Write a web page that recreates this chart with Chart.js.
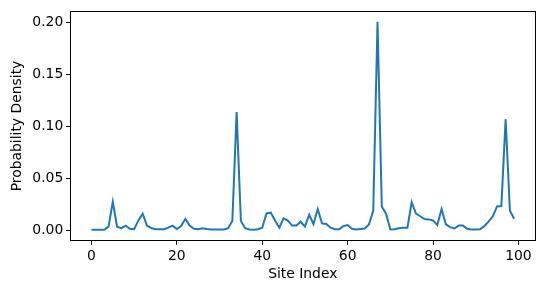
<!DOCTYPE html>
<html>
<head>
<meta charset="utf-8">
<script src="https://cdn.jsdelivr.net/npm/chart.js@4.4.1/dist/chart.umd.min.js"></script>
<style>
html,body{margin:0;padding:0;background:#fff;}
#wrap{width:545px;height:294px;}
</style>
</head>
<body>
<div id="wrap"><canvas id="c" width="545" height="294"></canvas></div>
<script>
const siteIndex = Array.from({length:100},(_,i)=>i);
const density = [
 0.0005,0.0005,0.0005,0.0005,0.0035,0.0275,0.0035,0.002,0.0045,0.0015,
 0.001,0.0095,0.016,0.0045,0.0022,0.001,0.001,0.001,0.0025,0.0045,
 0.0012,0.004,0.011,0.0045,0.0015,0.001,0.002,0.0012,0.0008,0.0008,
 0.0008,0.0008,0.002,0.009,0.114,0.009,0.002,0.0007,0.0005,0.001,
 0.0025,0.0163,0.017,0.0095,0.0025,0.0115,0.0093,0.0045,0.0045,0.0082,
 0.0035,0.015,0.006,0.0205,0.0066,0.006,0.0025,0.001,0.001,0.004,
 0.005,0.0015,0.0007,0.0012,0.0017,0.0055,0.019,0.201,0.023,0.016,
 0.0008,0.001,0.002,0.0025,0.0025,0.027,0.016,0.0135,0.0108,0.0105,
 0.0095,0.005,0.0205,0.0058,0.003,0.0017,0.0045,0.0045,0.0015,0.0007,
 0.0007,0.001,0.004,0.0083,0.0135,0.023,0.0233,0.107,0.019,0.011
];
const xTicks = [0,20,40,60,80,100];
const yTicks = [0,0.05,0.10,0.15,0.20];

const FONT = {family:'"DejaVu Sans", sans-serif', size:13.9};

const boxPlugin = {
  id:'box',
  afterDraw(chart){
    const a = chart.chartArea, ctx = chart.ctx;
    ctx.save();
    ctx.strokeStyle = '#000';
    ctx.lineWidth = 1;
    ctx.strokeRect(Math.round(a.left)+0.5, Math.round(a.top)+0.5, Math.round(a.right-a.left), Math.round(a.bottom-a.top));
    ctx.restore();
  }
};

new Chart(document.getElementById('c'), {
  type:'line',
  data:{
    datasets:[{
      data: siteIndex.map((x,i)=>({x:x, y:density[i]})),
      borderColor:'#1f77b4',
      borderWidth:2,
      pointRadius:0,
      tension:0,
      fill:false
    }]
  },
  options:{
    responsive:false,
    animation:false,
    devicePixelRatio:1,
    layout:{padding:{left:0,right:9.7,top:10,bottom:0}},
    plugins:{legend:{display:false},tooltip:{enabled:false}},
    scales:{
      x:{
        type:'linear',
        min:-4.95, max:103.95,
        afterBuildTicks(s){ s.ticks = xTicks.map(v=>({value:v})); },
        afterFit(s){ s.height = 53.3; },
        grid:{drawOnChartArea:false, drawTicks:true, tickLength:4, color:'#000', lineWidth:1},
        border:{display:true, color:'#000', width:1},
        ticks:{color:'#000', font:FONT, padding:3, maxRotation:0,
          callback:v=>String(v)},
        title:{display:true, text:'Site Index', color:'#000', font:FONT, padding:{top:0,bottom:11}}
      },
      y:{
        type:'linear',
        min:-0.01005, max:0.21105,
        afterBuildTicks(s){ s.ticks = yTicks.map(v=>({value:v})); },
        afterFit(s){ s.width = 70.3; },
        grid:{drawOnChartArea:false, drawTicks:true, tickLength:4, color:'#000', lineWidth:1},
        border:{display:true, color:'#000', width:1},
        ticks:{color:'#000', font:FONT, padding:3,
          callback:v=>v.toFixed(2)},
        title:{display:true, text:'Probability Density', color:'#000', font:FONT, padding:{top:9,bottom:0}}
      }
    }
  },
  plugins:[boxPlugin]
});
</script>
</body>
</html>
